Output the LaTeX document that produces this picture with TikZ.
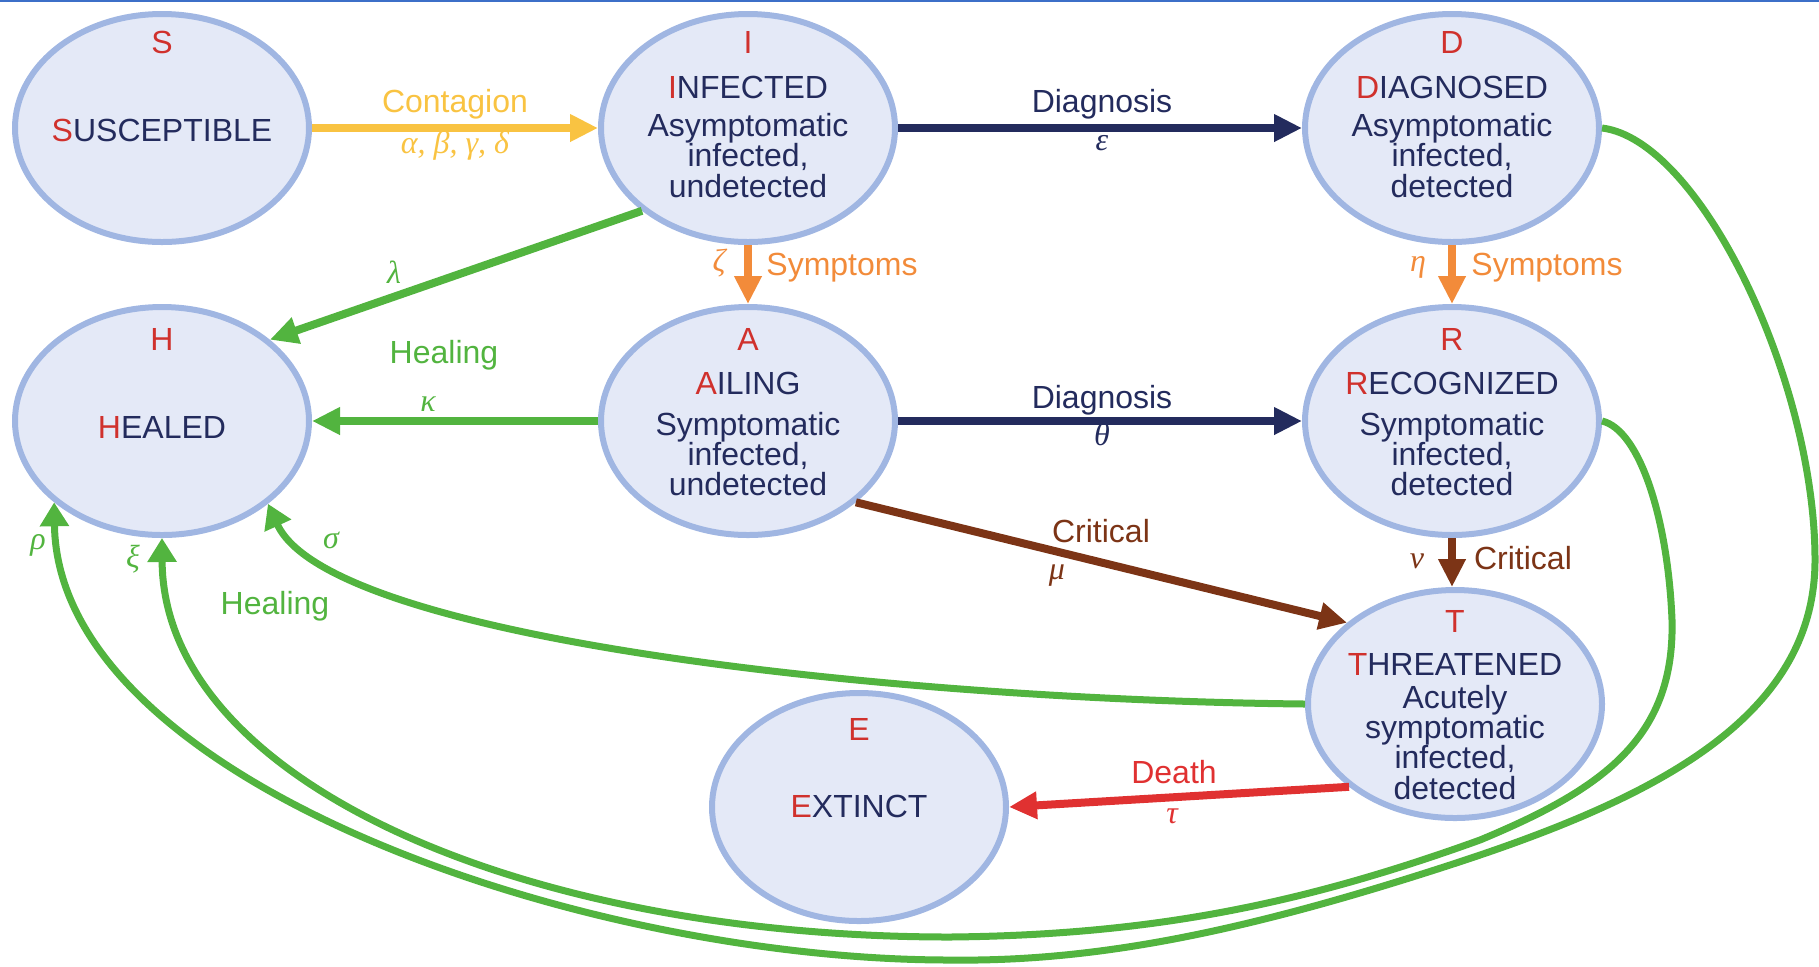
\documentclass[tikz,border=0pt]{standalone}
\usepackage{fontspec}
\setmainfont{Liberation Sans}
\newfontfamily\grkfont{Liberation Serif}
\usetikzlibrary{arrows.meta,shapes.geometric}
\definecolor{cfill}{HTML}{E4E9F7}
\definecolor{cedge}{HTML}{A0B6E2}
\definecolor{cred}{HTML}{D0312D}
\definecolor{cnavy}{HTML}{232B5D}
\definecolor{cyel}{HTML}{F9C342}
\definecolor{corange}{HTML}{F28B3A}
\definecolor{cgreen}{HTML}{52B43F}
\definecolor{cbrown}{HTML}{7C3416}
\definecolor{cdeath}{HTML}{E03131}
\definecolor{ctop}{HTML}{3C6FC8}
\begin{document}
\begin{tikzpicture}[x=0.5pt,y=-0.5pt,
 state/.style={ellipse, draw=cedge, fill=cfill, line width=3pt, minimum width=147pt, minimum height=114pt, inner sep=0pt},
 txt/.style={font=\fontsize{16}{18}\selectfont, text=cnavy, inner sep=0pt, text height=11.5pt, text depth=0pt, anchor=center},
 gk/.style={font=\fontsize{16}{18}\selectfont\grkfont\itshape, inner sep=0pt, text height=7pt, text depth=0pt, anchor=center},
 flow/.style={line width=4pt, -{Triangle[length=14pt,width=13pt]}},
 heal/.style={line width=3.5pt, cgreen, -{Triangle[length=12pt,width=14pt]}},
]
\useasboundingbox (0,0) rectangle (1819,966);
\draw[ctop, line width=1pt] (0,1) -- (1819,1);

% states
\node[state] (S) at (162,128) {};
\node[state] (I) at (748,128) {};
\node[state] (D) at (1452,128) {};
\node[state] (H) at (162,421) {};
\node[state] (A) at (748,421) {};
\node[state] (R) at (1452,421) {};
\node[state] (T) at (1455,704) {};
\node[state] (E) at (859,807) {};

% texts
\node[txt, text=cred] (S1) at (162,42) {S};
\node[txt] (S2) at (162,130) {\textcolor{cred}{S}USCEPTIBLE};
\node[txt, text=cred] (I1) at (748,42) {I};
\node[txt] (I2) at (748,87) {\textcolor{cred}{I}NFECTED};
\node[txt] (I3) at (748,125) {Asymptomatic};
\node[txt] (I4) at (748,155) {infected,};
\node[txt] (I5) at (748,186) {undetected};
\node[txt, text=cred] (D1) at (1452,42) {D};
\node[txt] (D2) at (1452,87) {\textcolor{cred}{D}IAGNOSED};
\node[txt] (D3) at (1452,125) {Asymptomatic};
\node[txt] (D4) at (1452,155) {infected,};
\node[txt] (D5) at (1452,186) {detected};
\node[txt, text=cred] (H1) at (162,339) {H};
\node[txt] (H2) at (162,427) {\textcolor{cred}{H}EALED};
\node[txt, text=cred] (A1) at (748,339) {A};
\node[txt] (A2) at (748,383) {\textcolor{cred}{A}ILING};
\node[txt] (A3) at (748,424) {Symptomatic};
\node[txt] (A4) at (748,454) {infected,};
\node[txt] (A5) at (748,484) {undetected};
\node[txt, text=cred] (R1) at (1452,339) {R};
\node[txt] (R2) at (1452,383) {\textcolor{cred}{R}ECOGNIZED};
\node[txt] (R3) at (1452,424) {Symptomatic};
\node[txt] (R4) at (1452,454) {infected,};
\node[txt] (R5) at (1452,484) {detected};
\node[txt, text=cred] (T1) at (1455,621) {T};
\node[txt] (T2) at (1455,664) {\textcolor{cred}{T}HREATENED};
\node[txt] (T3) at (1455,697) {Acutely};
\node[txt] (T4) at (1455,727) {symptomatic};
\node[txt] (T5) at (1455,757) {infected,};
\node[txt] (T6) at (1455,788) {detected};
\node[txt, text=cred] (E1) at (859,729) {E};
\node[txt] (E2) at (859,806) {\textcolor{cred}{E}XTINCT};

% straight transitions
\draw[flow, cyel] (S.east) -- (I.west);
\node[txt, text=cyel] (lc) at (455,101) {Contagion};
\node[gk, text=cyel] (lab) at (455,146) {α, β, γ, δ};

\draw[flow, cnavy] (I.east) -- (D.west);
\node[txt] (ld1) at (1102,101) {Diagnosis};
\node[gk, text=cnavy] (leps) at (1102,143) {ε};

\draw[flow, corange] (I.south) -- (A.north);
\node[gk, text=corange] (lzeta) at (719,264) {ζ};
\node[txt, text=corange] (ls1) at (842,264) {Symptoms};

\draw[flow, corange] (D.south) -- (R.north);
\node[gk, text=corange] (leta) at (1418,264) {η};
\node[txt, text=corange] (ls2) at (1547,264) {Symptoms};

\draw[flow, cgreen] (I.218) -- (H.37);
\node[gk, text=cgreen] (llam) at (394,276) {λ};
\node[txt, text=cgreen] (lh1) at (444,352) {Healing};

\draw[flow, cgreen] (A.west) -- (H.east);
\node[gk, text=cgreen] (lkap) at (428,404) {κ};

\draw[flow, cnavy] (A.east) -- (R.west);
\node[txt] (ld2) at (1102,397) {Diagnosis};
\node[gk, text=cnavy] (lth) at (1102,438) {θ};

\draw[flow, cbrown] (A.323) -- (T.143);
\node[txt, text=cbrown] (lc1) at (1101,531) {Critical};
\node[gk, text=cbrown] (lmu) at (1057,572) {μ};

\draw[flow, cbrown] (R.south) -- (R.south |- T.north);
\node[gk, text=cbrown] (lnu) at (1417,561) {ν};
\node[txt, text=cbrown] (lc2) at (1523,558) {Critical};

\draw[flow, cdeath] (T.218) -- (E.east);
\node[txt, text=cdeath] (lde) at (1174,772) {Death};
\node[gk, text=cdeath] (ltau) at (1172,816) {τ};

% curved healing
\draw[heal] (T.west) .. controls (900,700) and (330,640) .. (H.322);
\node[gk, text=cgreen] (lsig) at (331,541) {σ};
\node[txt, text=cgreen] (lh2) at (275,603) {Healing};

\draw[heal] (R.east) .. controls (1640,430) and (1668,520) .. (1672,620)
  .. controls (1675,740) and (1600,790) .. (1480,840)
  .. controls (1300,905) and (1150,935) .. (950,937)
  .. controls (520,937) and (163,780) .. (H.south);
\node[gk, text=cgreen] (lxi) at (133,560) {ξ};

\draw[heal] (D.east) .. controls (1700,140) and (1815,380) .. (1815,560)
  .. controls (1815,720) and (1650,800) .. (1450,865)
  .. controls (1250,930) and (1100,962) .. (950,960)
  .. controls (580,960) and (58,780) .. (H.217);
\node[gk, text=cgreen] (lrho) at (38,542) {ρ};
\end{tikzpicture}
\end{document}
